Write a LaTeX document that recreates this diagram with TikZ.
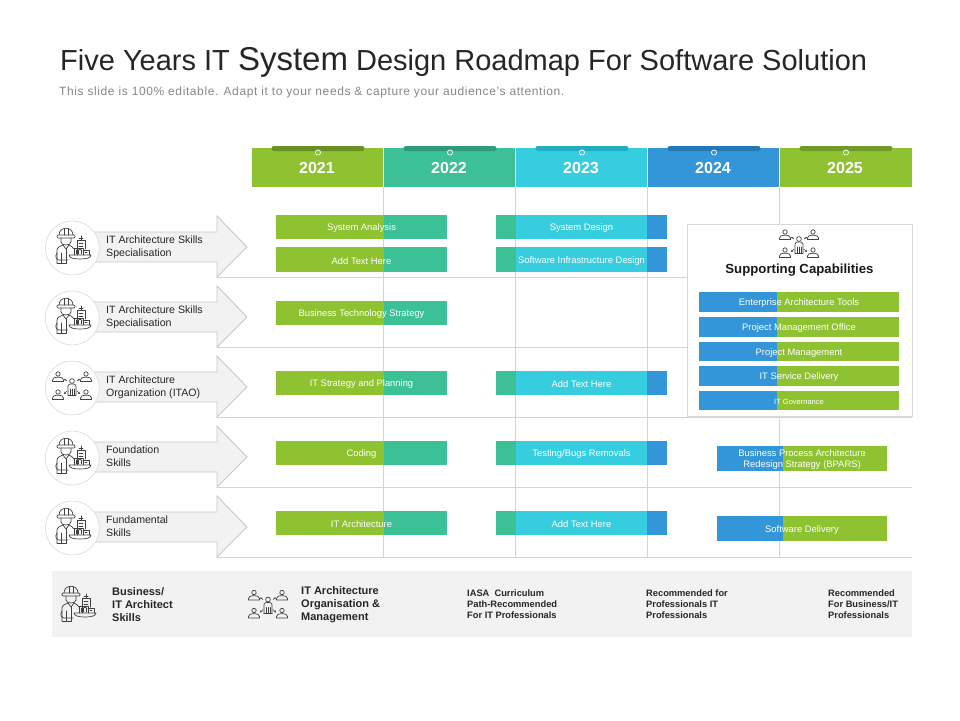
\documentclass[tikz,border=0pt]{standalone}
\usepackage{fontspec}
\setmainfont{Liberation Sans}
\usetikzlibrary{arrows.meta}
\definecolor{cgreen}{HTML}{8FC231}
\definecolor{cteal}{HTML}{3CC096}
\definecolor{ccyan}{HTML}{36CEDE}
\definecolor{cblue}{HTML}{3296D8}
\definecolor{tabgreen}{HTML}{6B8F22}
\definecolor{tabteal}{HTML}{2E9C78}
\definecolor{tabcyan}{HTML}{22AEC2}
\definecolor{tabblue}{HTML}{2678B4}
\definecolor{tablime}{HTML}{6F9A28}
\definecolor{gridc}{HTML}{D4D4D4}
\definecolor{arrowedge}{HTML}{C8C8C8}
\definecolor{softbg}{HTML}{F2F2F2}
\definecolor{icon}{HTML}{404040}
\definecolor{txt}{HTML}{262626}
\tikzset{
  x=1pt,y=-1pt,
  gridline/.style={draw=gridc,line width=0.9pt},
  barlabel/.style={text=white,align=center,font=\fontsize{9.4}{11}\selectfont,inner sep=0pt},
  yearlabel/.style={text=white,font=\fontsize{16}{18}\selectfont\bfseries,inner sep=0pt},
  rowlabel/.style={text=txt,align=left,anchor=west,font=\fontsize{10.6}{13}\selectfont,inner sep=0pt},
  bandlabel/.style={text=txt,align=left,anchor=west,font=\fontsize{11}{13}\selectfont\bfseries,inner sep=0pt},
  smalllabel/.style={text=txt,align=left,anchor=west,font=\fontsize{9.3}{11}\selectfont\bfseries,inner sep=0pt},
  iconline/.style={draw=icon,line width=0.7pt,line join=round,line cap=round},
  iconarrow/.style={draw=icon,line width=0.6pt,-{Stealth[length=2.2pt,width=2.2pt]}},
  person/.pic={
    \draw[iconline] (0,-3) circle (2.2pt);
    \draw[iconline] (-5.5,4.5) -- (-5.5,3) .. controls (-5.5,1) and (-3,0.3) .. (-1.5,0.3) -- (1.5,0.3) .. controls (3,0.3) and (5.5,1) .. (5.5,3) -- (5.5,4.5) -- cycle;
  },
  people/.pic={
    \pic at (-14,-10) {person};
    \pic at (14,-10) {person};
    \pic at (-14,8) {person};
    \pic at (14,8) {person};
    \draw[iconline] (0,-6) circle (2.4pt);
    \draw[iconline] (-4,8) -- (-4,-1) .. controls (-4,-3) and (-2,-3) .. (0,-3) .. controls (2,-3) and (4,-3) .. (4,-1) -- (4,8);
    \draw[iconline] (-2,8) -- (-2,2) (0,8) -- (0,2) (2,8) -- (2,2) (-4,8) -- (4,8);
    \draw[iconarrow] (-5,-6) -- (-8,-8);
    \draw[iconarrow] (5,-6) -- (8,-8);
    \draw[iconarrow] (-5,4) -- (-8,7);
    \draw[iconarrow] (5,4) -- (8,7);
  },
  worker/.pic={
    \draw[iconline] (-13,-13) .. controls (-13,-22) and (1,-22) .. (1,-13);
    \draw[iconline,rounded corners=1pt] (-15,-13) rectangle (3,-10);
    \draw[iconline] (-8,-19) -- (-8,-13) (-4,-19) -- (-4,-13);
    \draw[iconline] (-11,-10) -- (-11,-6) .. controls (-11,-2) and (-1,-2) .. (-1,-6) -- (-1,-10);
    \draw[iconline] (-15,15) -- (-15,2) .. controls (-15,-1) and (-11,-2) .. (-9,-3) -- (-6,1) -- (-3,-3) .. controls (-1,-2) and (1,-1) .. (2,1);
    \draw[iconline] (-6,1) -- (-6,15) -- (-15,15);
    \draw[iconline] (-15,5) .. controls (-18,9) and (-15,13) .. (-11,12) -- (-4,12);
    \draw[iconline] (-11,5) -- (-11,15);
    \draw[iconline] (5,7) -- (5,-8) -- (13,-8) -- (13,1);
    \draw[iconline] (9,-8) -- (9,-12) (7,-10) -- (11,-10);
    \draw[iconline] (7,-5) -- (11,-5) (7,-2) -- (11,-2) (7,1) -- (9,1);
    \draw[iconline] (2,7) -- (2,0) -- (11,0) -- (11,7);
    \draw[iconline] (4,2) -- (4,6) (6.5,2) -- (6.5,6) (9,2) -- (9,6);
    \draw[iconline] (11,2) -- (17,2) -- (17,7);
    \draw[iconline] (13,4) -- (15,4);
    \draw[iconline] (-3,7) -- (19,7) .. controls (19,10) and (14,11) .. (8,11) .. controls (2,11) and (-3,10) .. (-3,7);
  }
}
\newcommand{\splitbar}[9]{%
  \fill[#7] (#2,#5) rectangle (#3,#6);
  \fill[#8] (#3,#5) rectangle (#4,#6);
  \node[barlabel] (#1) at ({(#2+#4)/2},{(#5+#6)/2+1.2}) {#9};
}
\newcommand{\tribar}[6]{%
  \fill[#4] (496,#2) rectangle (515.5,#3);
  \fill[#5] (515.5,#2) rectangle (647,#3);
  \fill[cblue] (647,#2) rectangle (667,#3);
  \node[barlabel] (#1) at (581.5,{(#2+#3)/2+1.2}) {#6};
}
\newcommand{\rowarrow}[2]{%
  \fill[softbg] (90,#1-15) -- (217,#1-15) -- (217,#1-31) -- (247,#1) -- (217,#1+30) -- (217,#1+15) -- (90,#1+15) -- cycle;
  \draw[draw=arrowedge,line width=0.9pt] (90,#1-15) -- (217,#1-15) -- (217,#1-31) -- (247,#1) -- (217,#1+30) -- (217,#1+15) -- (90,#1+15);
  \fill[white] (72.3,#1+1) circle (27pt);
  \draw[draw=gridc!80,line width=0.7pt] (72.3,#1+1) circle (27pt);
}
\newcommand{\yearhead}[7]{%
  \fill[#3] (#1,148) rectangle (#1+132,187);
  \fill[#4,rounded corners=2.4pt] (#1+20,146) rectangle (#1+113,151);
  \draw[white,line width=0.7pt,fill=#3] (#1+66.5,152.5) circle (2.6pt);
  \node[yearlabel] (#5) at (#1+65.5,168) {#2};
}
\begin{document}
\begin{tikzpicture}
\useasboundingbox (0,0) rectangle (960,720);
\fill[white] (0,0) rectangle (960,720);

% title
\node[anchor=base west,inner sep=0pt,text=txt,font=\fontsize{29}{34}\selectfont] (title) at (60,70.5) {Five Years IT {\fontsize{33}{34}\selectfont System} Design Roadmap For Software Solution};
\node[anchor=base west,inner sep=0pt,text=black!47,font=\fontsize{12}{14}\selectfont\addfontfeatures{LetterSpace=5}] (subtitle) at (59,95.5) {This slide is 100\% editable. Adapt it to your needs \& capture your audience’s attention.};

% grid
\foreach \yy in {277,347,417,487,557} \draw[gridline] (217,\yy) -- (912,\yy);
\foreach \xx in {383.5,515.5,647.5,779.5} \draw[gridline] (\xx,187) -- (\xx,557);

% year header
\yearhead{251.5}{2021}{cgreen}{tabgreen}{y2021}{}{}
\yearhead{383.5}{2022}{cteal}{tabteal}{y2022}{}{}
\yearhead{515.5}{2023}{ccyan}{tabcyan}{y2023}{}{}
\yearhead{647.5}{2024}{cblue}{tabblue}{y2024}{}{}
\yearhead{779.5}{2025}{cgreen}{tablime}{y2025}{}{}
\foreach \xx in {383.5,515.5,647.5,779.5} \draw[white,line width=0.6pt] (\xx,148) -- (\xx,187);

% row arrows
\rowarrow{247}{}
\rowarrow{317}{}
\rowarrow{387}{}
\rowarrow{457}{}
\rowarrow{527}{}
\pic at (72,248) {worker};
\pic at (72,318) {worker};
\pic at (72,387) {people};
\pic at (72,458) {worker};
\pic at (72,528) {worker};
\node[rowlabel] (r1) at (106,247.5) {IT Architecture Skills\\Specialisation};
\node[rowlabel] (r2) at (106,317.5) {IT Architecture Skills\\Specialisation};
\node[rowlabel] (r3) at (106,387.5) {IT Architecture\\Organization (ITAO)};
\node[rowlabel] (r4) at (106,456.5) {Foundation\\Skills};
\node[rowlabel] (r5) at (106,526.5) {Fundamental\\Skills};

% left bars
\splitbar{b1}{276}{383.5}{447}{215}{239}{cgreen}{cteal}{System Analysis}
\splitbar{b2}{276}{383.5}{447}{247}{272}{cgreen}{cteal}{Add Text Here}
\splitbar{b3}{276}{383.5}{447}{301}{325}{cgreen}{cteal}{Business Technology Strategy}
\splitbar{b4}{276}{383.5}{447}{371}{395}{cgreen}{cteal}{IT Strategy and Planning}
\splitbar{b5}{276}{383.5}{447}{441}{465}{cgreen}{cteal}{Coding}
\splitbar{b6}{276}{383.5}{447}{511}{535}{cgreen}{cteal}{IT Architecture}

% middle bars
\tribar{m1}{215}{239}{cteal}{ccyan}{System Design}
\tribar{m2}{247}{272}{cteal}{ccyan}{Software Infrastructure Design}
\tribar{m3}{371}{395}{cteal}{ccyan}{Add Text Here}
\tribar{m4}{441}{465}{cteal}{ccyan}{Testing/Bugs Removals}
\tribar{m5}{511}{535}{cteal}{ccyan}{Add Text Here}

% supporting box
\fill[white] (687.5,224.5) rectangle (912,416.5);
\draw[draw=gridc!90,line width=0.8pt] (687.5,224.5) rectangle (912,416.5);
\pic at (799,245) {people};
\node[inner sep=0pt,text=black!90,font=\fontsize{13.2}{15}\selectfont\bfseries] (sc) at (799.5,270.5) {Supporting Capabilities};
\splitbar{s1}{699}{777}{899}{292}{312}{cblue}{cgreen}{Enterprise Architecture Tools}
\splitbar{s2}{699}{777}{899}{317}{337}{cblue}{cgreen}{Project Management Office}
\splitbar{s3}{699}{777}{899}{342}{361}{cblue}{cgreen}{Project Management}
\splitbar{s4}{699}{777}{899}{366}{386}{cblue}{cgreen}{IT Service Delivery}
\splitbar{s5}{699}{777}{899}{391}{410}{cblue}{cgreen}{\fontsize{7.5}{9}\selectfont IT Governance}

% right bars
\splitbar{p1}{717}{783}{887}{446}{471}{cblue}{cgreen}{Business Process Architecture\\Redesign Strategy (BPARS)}
\splitbar{p2}{717}{783}{887}{516}{541}{cblue}{cgreen}{Software Delivery}

% bottom band
\fill[softbg] (52,571) rectangle (912,637);
\pic at (77,606) {worker};
\pic at (268,605.5) {people};
\node[bandlabel] (l1) at (112,605) {Business/\\IT Architect\\Skills};
\node[bandlabel] (l2) at (301,605) {IT Architecture\\Organisation \&\\Management};
\node[smalllabel] (l3) at (467,604.5) {IASA\ \ Curriculum\\Path-Recommended\\For IT Professionals};
\node[smalllabel] (l4) at (646,604.5) {Recommended for\\Professionals IT\\Professionals};
\node[smalllabel] (l5) at (828,604.5) {Recommended\\For Business/IT\\Professionals};
\end{tikzpicture}
\end{document}
